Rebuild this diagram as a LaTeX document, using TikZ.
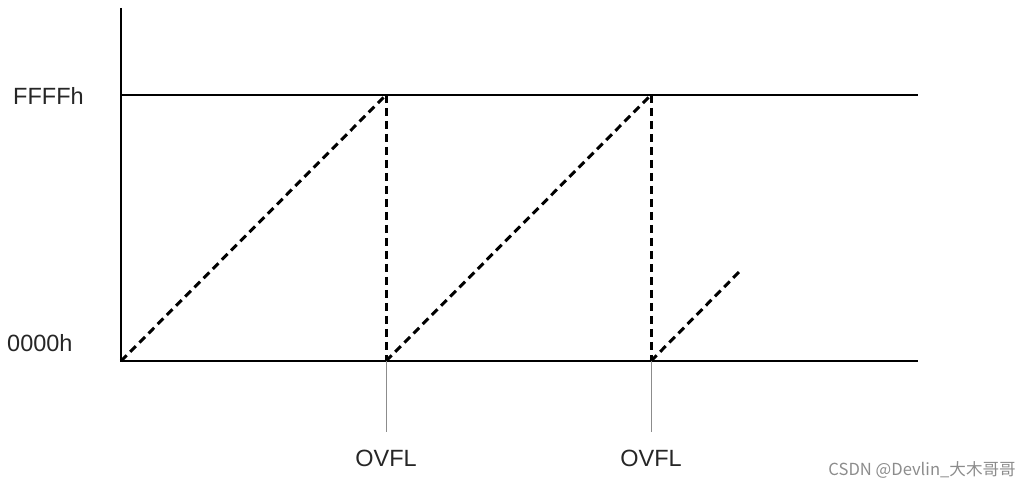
\documentclass[tikz,border=0pt]{standalone}
\usepackage{fontspec}
\setmainfont{Liberation Sans}
\newfontfamily\cjk{Noto Sans CJK SC}
\begin{document}
\begin{tikzpicture}[x=1pt,y=1pt,
  axis/.style={line width=1.5pt,black},
  ramp/.style={line width=3pt,black,dash pattern=on 8pt off 5pt},
  tick/.style={line width=0.9pt,black!45},
  lbl/.style={font=\fontsize{23.5}{26}\selectfont,text=black!85,inner sep=0pt}]
\useasboundingbox (0,0) rectangle (1030,492);
% coordinates (y = 492 - pixel y)
\coordinate (top) at (121,484);
\coordinate (o) at (121,131);
\coordinate (xe) at (918,131);
\coordinate (fl) at (121,397);
\coordinate (fe) at (918,397);
\coordinate (p1) at (386,397);
\coordinate (b1) at (386,131);
\coordinate (p2) at (651,397);
\coordinate (b2) at (651,131);
\coordinate (r3) at (740,221);
\coordinate (t1) at (386,60);
\coordinate (t2) at (651,60);
% axes
\draw[axis] (top) -- (o) -- (xe);
\draw[axis] (fl) -- (fe);
% ramps
\draw[ramp] (o) -- (p1);
\draw[ramp] (p1) -- (b1);
\draw[ramp] (b1) -- (p2);
\draw[ramp] (p2) -- (b2);
\draw[ramp] (b2) -- (r3);
% ticks
\draw[tick] (b1) -- (t1);
\draw[tick] (b2) -- (t2);
% labels
\node[lbl,anchor=west] (ffff) at (13,396) {FFFFh};
\node[lbl,anchor=west] (zero) at (7,149) {0000h};
\node[lbl] (ov1) at (386,34) {OVFL};
\node[lbl] (ov2) at (651,34) {OVFL};
\node[font=\cjk\fontsize{16.6}{18}\selectfont,text=black!45,anchor=east,inner sep=0pt] (wm) at (1016,22) {CSDN @Devlin\_大木哥哥};
\end{tikzpicture}
\end{document}
